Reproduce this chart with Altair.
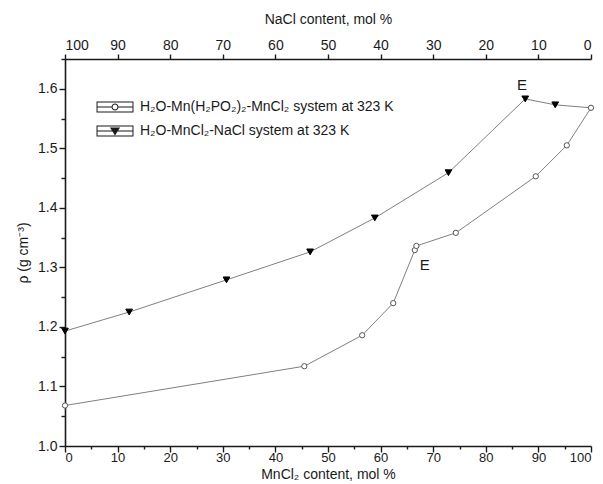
import math
import altair as alt
import pandas as pd

# ---- data ----
mncl2_a = [0, 45.5, 56.5, 62.4, 66.5, 66.8, 74.3, 89.5, 95.4, 100]
rho_a = [1.068, 1.134, 1.186, 1.240, 1.329, 1.336, 1.358, 1.453, 1.505, 1.568]
mncl2_b = [0, 12.2, 30.7, 46.6, 58.9, 72.9, 87.5, 93.2, 100]
rho_b = [1.193, 1.225, 1.279, 1.326, 1.383, 1.459, 1.583, 1.573, 1.568]
series_keys = ["A", "B"]
series_names = ["H₂O-Mn(H₂PO₂)₂-MnCl₂ system at 323 K", "H₂O-MnCl₂-NaCl system at 323 K"]
e_x = [86.9, 68.4]
e_y = [1.607, 1.304]
e_text = ["E", "E"]
x_ticks = list(range(0, 101, 5))
x_top_ticks = list(range(0, 101, 10))
y_ticks = [round(1.0 + 0.05 * i, 2) for i in range(14)]

df = pd.concat([
    pd.DataFrame({"x": mncl2_a, "y": rho_a, "series": series_keys[0]}),
    pd.DataFrame({"x": mncl2_b, "y": rho_b, "series": series_keys[1]}),
], ignore_index=True)
df_e = pd.DataFrame({"x": e_x, "y": e_y, "t": e_text})

FONT = "Liberation Sans"
INK = "#1a1a1a"

# ---- legend symbol paths (Origin-style boxed line+marker) ----
def rect(x0, y0, x1, y1, cw=True):
    if cw:
        return f"M{x0},{y0}L{x1},{y0}L{x1},{y1}L{x0},{y1}Z"
    return f"M{x0},{y0}L{x0},{y1}L{x1},{y1}L{x1},{y0}Z"

def poly_circle(r, cw=True, n=20):
    pts = []
    for i in range(n):
        a = 2 * math.pi * i / n
        if not cw:
            a = -a
        pts.append(f"{r*math.cos(a):.3f},{r*math.sin(a):.3f}")
    return "M" + "L".join(pts) + "Z"

frame = rect(-1.54, -0.46, 1.54, 0.46) + rect(-1.457, -0.377, 1.457, 0.377, cw=False)
path_a = (frame + rect(-1.457, -0.05, -0.29, 0.05) + rect(0.29, -0.05, 1.457, 0.05)
          + poly_circle(0.29, True) + poly_circle(0.20, False))
path_b = frame + rect(-1.457, -0.05, 1.457, 0.05) + "M-0.42,-0.3L0.42,-0.3L0,0.37Z"

label_expr = f"datum.value === '{series_keys[0]}' ? '{series_names[0]}' : '{series_names[1]}'"

xscale = alt.Scale(domain=[0, 100], nice=False, zero=False)
yscale = alt.Scale(domain=[1.0, 1.65], nice=False, zero=False)

x_bottom = alt.Axis(
    values=x_ticks, title="MnCl₂ content, mol %",
    labelExpr="datum.value % 10 === 0 ? datum.label : ''",
    tickSize={"condition": {"test": "datum.value % 10 === 0", "value": 6}, "value": 3},
    titlePadding=3, labelPadding=-1, labelFontSize=13,
)
y_left = alt.Axis(
    values=y_ticks, title="ρ (g cm⁻³)",
    labelExpr="round(datum.value*100) % 10 === 0 ? format(datum.value, '.1f') : ''",
    tickSize={"condition": {"test": "round(datum.value*100) % 10 === 0", "value": 6}, "value": 4},
    titlePadding=7, labelPadding=2,
)
x_top = alt.Axis(
    orient="top", values=x_top_ticks, title="NaCl content, mol %",
    labelExpr="format(100 - datum.value, 'd')", tickSize=5, titlePadding=12,
)

lines = alt.Chart(df).mark_line(color="#808080", strokeWidth=1).encode(
    x=alt.X("x:Q", scale=xscale, axis=x_bottom),
    y=alt.Y("y:Q", scale=yscale, axis=y_left),
    detail="series:N",
)

points = alt.Chart(df).transform_filter(
    f"!(datum.series === '{series_keys[1]}' && datum.x === 100)"
).mark_point(filled=True, strokeWidth=1, opacity=1).encode(
    x=alt.X("x:Q", scale=xscale, axis=None),
    y=alt.Y("y:Q", scale=yscale, axis=None),
    shape=alt.Shape("series:N", scale=alt.Scale(domain=series_keys, range=["circle", "triangle-down"]), legend=None),
    fill=alt.Fill("series:N", scale=alt.Scale(domain=series_keys, range=["white", "black"]), legend=None),
    stroke=alt.Stroke("series:N", scale=alt.Scale(domain=series_keys, range=["#555555", "black"]), legend=None),
    size=alt.Size("series:N", scale=alt.Scale(domain=series_keys, range=[28, 45]), legend=None),
)

# legend-only layer (invisible marks, provides the boxed legend symbols)
legend_layer = alt.Chart(df).mark_point(filled=True, opacity=0, color=INK, size=576).encode(
    x=alt.X("x:Q", scale=xscale, axis=None),
    y=alt.Y("y:Q", scale=yscale, axis=None),
    shape=alt.Shape("series:N", scale=alt.Scale(domain=series_keys, range=[path_a, path_b]),
                    legend=alt.Legend(
                        title=None, orient="none", legendX=38, legendY=36,
                        symbolSize=576, labelOffset=13, rowPadding=5,
                        labelFont=FONT, labelFontSize=14, labelColor=INK,
                        labelExpr=label_expr, labelLimit=0,
                        symbolFillColor=INK, symbolStrokeColor="transparent",
                        symbolStrokeWidth=0, symbolOpacity=1,
                    )),
)

labels = alt.Chart(df_e).mark_text(font=FONT, fontSize=15, color=INK, align="center", baseline="middle").encode(
    x=alt.X("x:Q", scale=xscale, axis=x_top),
    y=alt.Y("y:Q", scale=yscale, axis=None),
    text="t:N",
)

chart = alt.layer(lines, points, legend_layer, labels).resolve_axis(
    x="independent", y="independent"
).resolve_scale(shape="independent").properties(
    width=526, height=387,
    autosize=alt.AutoSizeParams(type="none"),
    padding={"left": 65, "top": 59, "right": 12, "bottom": 38},
).configure_view(stroke=None).configure_axis(
    grid=False, domainColor=INK, domainWidth=1.6, tickColor=INK, tickWidth=1.4,
    labelFont=FONT, labelFontSize=14, labelColor=INK,
    titleFont=FONT, titleFontSize=14, titleFontWeight="normal", titleColor=INK,
)

chart.save("out.html", embed_options={"renderer": "svg", "actions": False})
